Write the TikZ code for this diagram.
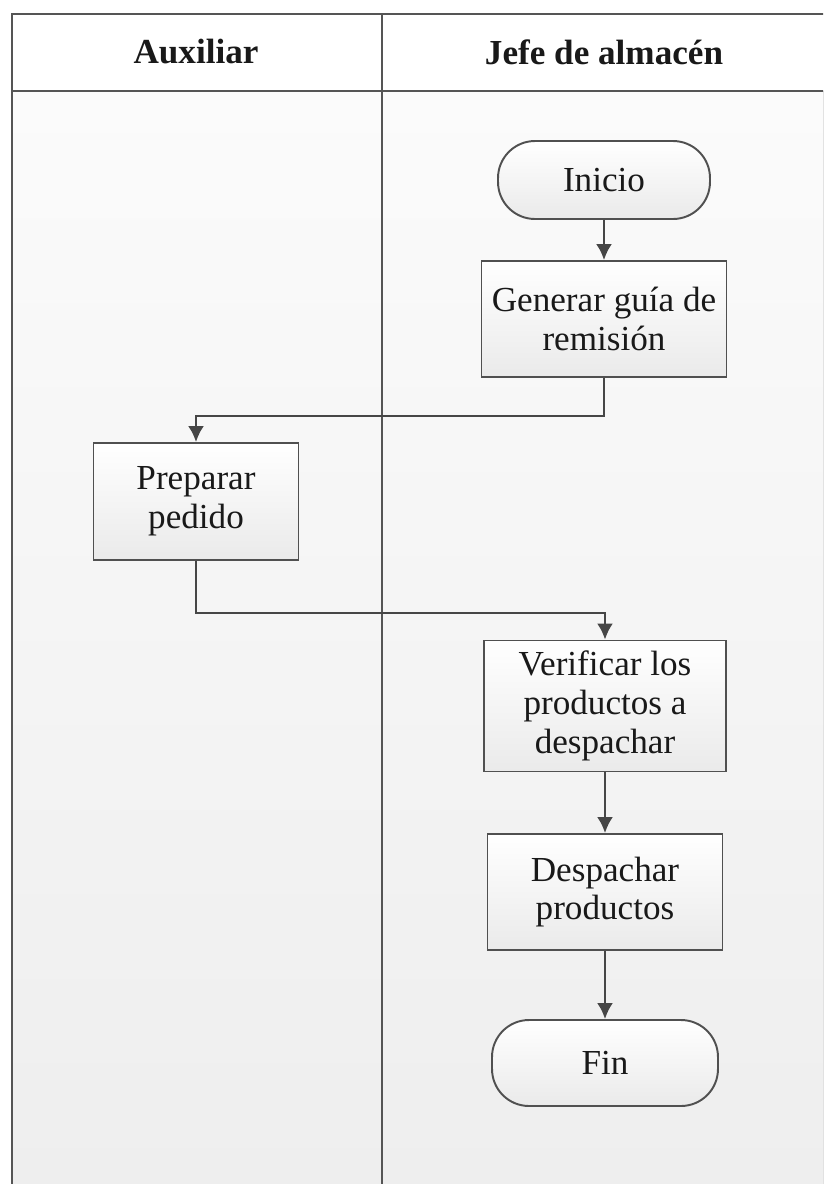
\documentclass[tikz,border=0pt]{standalone}
\usepackage{fontspec}
\setmainfont{Liberation Serif}
\usetikzlibrary{arrows.meta}
\definecolor{laneborder}{RGB}{85,85,85}
\definecolor{lanefilltop}{RGB}{251,251,251}
\definecolor{lanefillbot}{RGB}{238,238,238}
\definecolor{boxborder}{RGB}{80,80,80}
\definecolor{boxfillbot}{RGB}{234,234,234}
\definecolor{flowline}{RGB}{70,70,70}
\tikzset{
  lane/.style      = {draw=laneborder, line width=1.6pt},
  lanehead/.style  = {font=\fontsize{20}{22}\selectfont\bfseries, text=black!90},
  process/.style   = {draw=boxborder, line width=1.1pt, top color=white,
                      bottom color=boxfillbot, align=center, inner sep=0pt,
                      font=\fontsize{20}{22}\selectfont, text=black!90},
  terminal/.style  = {process, rounded corners=0.74cm},
  flow/.style      = {draw=flowline, line width=1.4pt,
                      -{Latex[length=0.32cm, width=0.32cm]}},
}

\begin{document}
\begin{tikzpicture}[x=0.02cm, y=-0.02cm]

  % ── page frame (pixel grid of the scan) ──
  \useasboundingbox (0,0) rectangle (823,1184);
  \clip (0,0) rectangle (823,1184);

  % ──────────────────────────────────────────────
  %  SWIMLANES
  % ──────────────────────────────────────────────
  \fill[top color=lanefilltop, bottom color=lanefillbot] (12,91) rectangle (830,1190);
  \fill[white] (12,14) rectangle (830,91);

  \draw[lane] (12,1190) |- (830,14);
  \draw[lane] (12,91) -- (830,91);
  \draw[lane] (382,14) -- (382,1190);

  \node[lanehead] (auxiliar) at (196, 52) {Auxiliar};
  \node[lanehead] (jefe)     at (604, 52) {Jefe de almacén};

  % ──────────────────────────────────────────────
  %  STEPS
  % ──────────────────────────────────────────────
  \node[terminal, minimum width=4.24cm, minimum height=1.56cm]
    (inicio) at (604, 180) {Inicio};
  \node[process, minimum width=4.9cm, minimum height=2.32cm]
    (guia) at (604, 319) {Generar guía de\\remisión};
  \node[process, minimum width=4.1cm, minimum height=2.34cm]
    (preparar) at (196, 501.5) {Preparar\\pedido};
  \node[process, minimum width=4.84cm, minimum height=2.62cm]
    (verificar) at (605, 706) {Verificar los\\productos a\\despachar};
  \node[process, minimum width=4.7cm, minimum height=2.32cm]
    (despachar) at (605, 892) {Despachar\\productos};
  \node[terminal, minimum width=4.52cm, minimum height=1.72cm]
    (fin) at (605, 1063) {Fin};

  % ──────────────────────────────────────────────
  %  FLOW
  % ──────────────────────────────────────────────
  \draw[flow] (inicio) -- (guia);
  \draw[flow] (guia.south) -- ++(0,38) -| (preparar.north);
  \draw[flow] (preparar.south) -- ++(0,52) -| (verificar.north);
  \draw[flow] (verificar) -- (despachar);
  \draw[flow] (despachar) -- (fin);

\end{tikzpicture}
\end{document}
